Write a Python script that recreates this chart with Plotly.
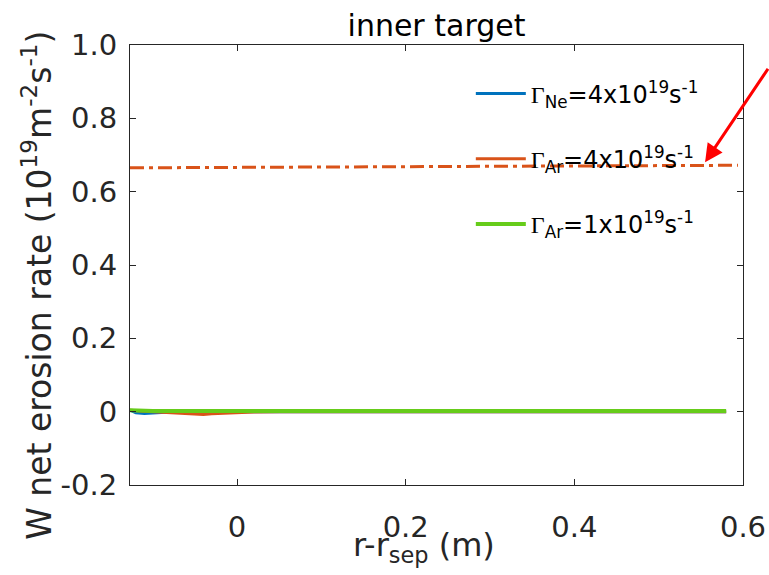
import plotly.graph_objects as go

r = [-0.127, -0.12, -0.11, -0.10, -0.08, -0.06, -0.04, -0.03, -0.02, -0.01, 0.0, 0.02, 0.05, 0.10, 0.20, 0.30, 0.40, 0.50, 0.58]
ne_4e19 = [0.004, -0.003, -0.005, -0.003, -0.001, 0.0, 0.0, 0.0, 0.0, 0.0, 0.0, 0.0, 0.0, 0.0, 0.0, 0.0, 0.0, 0.0, 0.0]
ar_4e19 = [0.004, 0.002, 0.001, 0.0, -0.003, -0.006, -0.008, -0.006, -0.005, -0.003, -0.004, -0.001, 0.0, 0.0, 0.0, 0.0, 0.0, 0.0, 0.0]
ar_1e19 = [0.004, 0.003, 0.002, 0.002, 0.002, 0.002, 0.002, 0.002, 0.002, 0.002, 0.002, 0.002, 0.002, 0.002, 0.002, 0.002, 0.002, 0.002, 0.002]
dash_r = [-0.127, 0.594]
dash_y = [0.665, 0.672]

FONT = "DejaVu Sans"
G = '<span style="font-family:Liberation Serif">Γ</span>'
names = [G + "<sub>Ne</sub>=4x10<sup>19</sup>s<sup>-1</sup>",
         G + "<sub>Ar</sub>=4x10<sup>19</sup>s<sup>-1</sup>",
         G + "<sub>Ar</sub>=1x10<sup>19</sup>s<sup>-1</sup>"]
colors = ["#0072BD", "#D95319", "#66CC1A"]
x_title = "r-r<sub>sep</sub> (m)"
y_title = "W net erosion rate (10<sup>19</sup>m<sup>-2</sup>s<sup>-1</sup>)"

fig = go.Figure()
fig.add_trace(go.Scatter(x=dash_r, y=dash_y, mode="lines", showlegend=False,
                         line=dict(color="#D95319", width=3, dash="14px,5px,4px,5px")))
for i, (yv, nm) in enumerate(zip([ne_4e19, ar_4e19, ar_1e19], names)):
    fig.add_trace(go.Scatter(x=r, y=yv, mode="lines", name=nm, legendgroup=str(i),
                             line=dict(color=colors[i], width=3 if i < 2 else 4)))

axis_common = dict(showline=True, linecolor="#262626", linewidth=1, mirror="ticks",
                   ticks="inside", ticklen=6, tickcolor="#262626", showgrid=False, zeroline=False,
                   automargin=False,
                   tickfont=dict(family=FONT, size=29, color="#262626"))

fig.update_layout(
    width=769, height=575,
    margin=dict(l=130, r=26, t=45, b=90),
    plot_bgcolor="white", paper_bgcolor="white",
    font=dict(family=FONT, color="#262626"),
    title=dict(text="inner target", x=0.5, xref="paper", y=0.955, yanchor="middle",
               font=dict(family=FONT, size=30, color="#000000")),
    xaxis=dict(range=[-0.127, 0.6], tickvals=[0, 0.2, 0.4, 0.6], ticktext=["0", "0.2", "0.4", "0.6"],
               ticklabelstandoff=16, **axis_common),
    yaxis=dict(range=[-0.2, 1.0], tickvals=[-0.2, 0, 0.2, 0.4, 0.6, 0.8, 1.0],
               ticktext=["-0.2", "0", "0.2", "0.4", "0.6", "0.8", "1.0"],
               ticklabelstandoff=6, **axis_common),
    legend=dict(x=0.556, y=0.94, xanchor="left", yanchor="top", bgcolor="rgba(0,0,0,0)",
                font=dict(family=FONT, size=24, color="#000000"),
                itemwidth=50, tracegroupgap=31, traceorder="grouped"),
    annotations=[
        dict(x=0.555, y=0.68, xref="x", yref="y", text="", showarrow=True,
             arrowhead=2, arrowsize=1.2, arrowwidth=3, arrowcolor="#FF0000",
             ax=75, ay=-95),
        dict(x=0.48, y=-0.088, xref="paper", yref="paper", text=x_title, showarrow=False,
             xanchor="center", yanchor="top", font=dict(family=FONT, size=32, color="#262626")),
        dict(x=-0.152, y=0.4545, xref="paper", yref="paper", text=y_title, showarrow=False,
             textangle=-90, xanchor="center", yanchor="middle",
             font=dict(family=FONT, size=33, color="#262626")),
    ],
)

fig.write_html("out.html")
